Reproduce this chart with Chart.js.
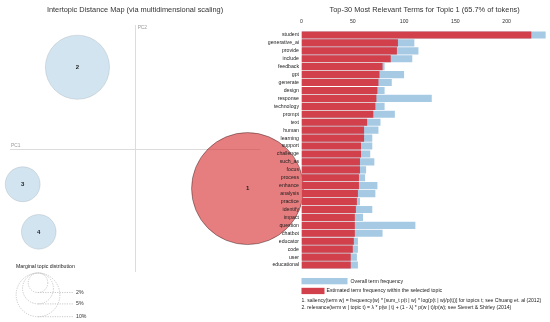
<!DOCTYPE html>
<html>
<head>
<meta charset="utf-8">
<script src="https://cdn.jsdelivr.net/npm/chart.js@4.4.0/dist/chart.umd.min.js"></script>
<style>
body { margin: 0; background: #fff; }
#wrap { position: relative; width: 550px; height: 322px; overflow: hidden; }
#mapChart { position: absolute; left: 0; top: 0; z-index: 0; }
#barChart { position: absolute; left: 240px; top: 0; z-index: 1; }
</style>
</head>
<body>
<div id="wrap">
  <canvas id="mapChart" width="310" height="322"></canvas>
  <canvas id="barChart" width="310" height="322"></canvas>
</div>
<script>
// topics on the intertopic map
var topicIds = ["1", "2", "3", "4"];
var topicPC1 = [0.891, -0.463, -0.899, -0.771];
var topicPC2 = [-0.316, 0.660, -0.281, -0.664];
var topicShare = [65.7, 21.6, 6.4, 6.3];   // % of tokens
var selectedTopic = 0;
var legendShares = [2, 5, 10];

// top-30 terms for topic 1
var terms = ["student", "generative_ai", "provide", "include", "feedback", "gpt", "generate", "design",
  "response", "technology", "prompt", "text", "human", "learning", "support", "challenge", "such_as",
  "focus", "process", "enhance", "analysis", "practice", "identify", "impact", "question", "chatbot",
  "educator", "code", "user", "educational"];
var topicFreq = [224, 94, 93, 87, 79, 76, 75, 74, 73, 72, 70, 64, 61, 61, 58, 58, 57, 57, 56, 56,
  55, 54, 53, 52, 52, 52, 51, 50, 48, 48];
var totalFreq = [238, 110, 114, 108, 81, 100, 88, 81, 127, 81, 91, 77, 75, 69, 69, 67, 71, 63, 62, 74,
  72, 57, 69, 60, 111, 79, 55, 55, 54, 55];
var freqTicks = [0, 50, 100, 150, 200];

var fontFamily = "'Liberation Sans', Arial, sans-serif";

function radiusFor(pct) {
    return 6.91 * Math.sqrt(pct);
}

var mapPoints = topicIds.map(function (id, i) {
    return { x: topicPC1[i], y: topicPC2[i], r: radiusFor(topicShare[i]) };
});

var mapExtras = {
    id: "mapExtras",
    afterDatasetsDraw: function (chart) {
        var ctx = chart.ctx;
        var meta = chart.getDatasetMeta(0);
        var xs = chart.scales.x, ys = chart.scales.y, area = chart.chartArea;
        ctx.save();
        ctx.font = "bold 6px " + fontFamily;
        ctx.fillStyle = "#222";
        ctx.textAlign = "center";
        ctx.textBaseline = "middle";
        meta.data.forEach(function (pt, i) {
            ctx.fillText(topicIds[i], pt.x, pt.y);
        });

        // axis names
        ctx.font = "4.8px " + fontFamily;
        ctx.fillStyle = "#999";
        ctx.textAlign = "left";
        ctx.textBaseline = "bottom";
        ctx.fillText("PC1", area.left + 1, ys.getPixelForValue(0) - 1.5);
        ctx.textBaseline = "top";
        ctx.fillText("PC2", xs.getPixelForValue(0) + 2, area.top + 0.5);

        // marginal topic distribution legend
        ctx.font = "5.2px " + fontFamily;
        ctx.fillStyle = "#222";
        ctx.textBaseline = "middle";
        ctx.fillText("Marginal topic distribution", 16, 267);
        var cx = 38, top = 273;
        ctx.setLineDash([1.2, 1.2]);
        ctx.strokeStyle = "#bbb";
        ctx.lineWidth = 0.8;
        legendShares.forEach(function (p) {
            var r = radiusFor(p);
            ctx.beginPath();
            ctx.arc(cx, top + r, r, 0, Math.PI * 2);
            ctx.stroke();
            ctx.beginPath();
            ctx.moveTo(cx, top + 2 * r);
            ctx.lineTo(73, top + 2 * r);
            ctx.stroke();
        });
        ctx.setLineDash([]);
        ctx.font = "5.2px " + fontFamily;
        ctx.fillStyle = "#333";
        legendShares.forEach(function (p) {
            var r = radiusFor(p);
            ctx.fillText(p + "%", 76, top + 2 * r);
        });
        ctx.restore();
    }
};

function zeroLine(c) {
    return c.tick && c.tick.value === 0 ? "#dcdcdc" : "rgba(0,0,0,0)";
}

new Chart("mapChart", {
    type: "bubble",
    data: {
        datasets: [{
            data: mapPoints,
            clip: false,
            backgroundColor: topicIds.map(function (id, i) {
                return i === selectedTopic ? "rgba(214,39,40,0.6)" : "rgba(31,119,180,0.2)";
            }),
            borderColor: topicIds.map(function (id, i) {
                return i === selectedTopic ? "rgba(0,0,0,0.45)" : "rgba(0,0,0,0.12)";
            }),
            borderWidth: 0.8,
        }],
    },
    options: {
        responsive: false,
        animation: false,
        events: [],
        layout: { autoPadding: false, padding: { left: 10, right: 50, top: 0, bottom: 50 } },
        plugins: {
            legend: { display: false },
            tooltip: { enabled: false },
            title: {
                display: true,
                fullSize: false,
                text: "Intertopic Distance Map (via multidimensional scaling)",
                color: "#333",
                font: { size: 7.4, family: fontFamily, weight: "normal" },
                padding: { top: 5.5, bottom: 10.6 },
            },
        },
        scales: {
            x: {
                min: -1, max: 0.99,
                ticks: { display: false, stepSize: 0.5, includeBounds: false },
                grid: { color: zeroLine, drawTicks: false, lineWidth: 1 },
                border: { display: false },
                afterFit: function (s) { s.height = 0; },
            },
            y: {
                min: -0.987, max: 1,
                ticks: { display: false, stepSize: 0.5, includeBounds: false },
                grid: { color: zeroLine, drawTicks: false, lineWidth: 1 },
                border: { display: false },
                afterFit: function (s) { s.width = 0; },
            },
        },
    },
    plugins: [mapExtras],
});

var barExtras = {
    id: "barExtras",
    afterDraw: function (chart) {
        var ctx = chart.ctx;
        var x0 = chart.chartArea.left;
        var ds = chart.data.datasets;
        ctx.save();
        ctx.fillStyle = ds[1].backgroundColor;
        ctx.fillRect(x0, 278, 46, 6.3);
        ctx.fillStyle = ds[0].backgroundColor;
        ctx.fillRect(x0, 287.8, 23, 6.3);
        ctx.font = "5.2px " + fontFamily;
        ctx.fillStyle = "#222";
        ctx.textAlign = "left";
        ctx.textBaseline = "middle";
        ctx.fillText(ds[1].label, x0 + 49, 281.2);
        ctx.fillText(ds[0].label, x0 + 25, 291);
        ctx.font = "5.1px " + fontFamily;
        ctx.fillText("1. saliency(term w) = frequency(w) * [sum_t p(t | w) * log(p(t | w)/p(t))] for topics t; see Chuang et. al (2012)", x0, 300.8);
        ctx.fillText("2. relevance(term w | topic t) = \u03bb * p(w | t) + (1 - \u03bb) * p(w | t)/p(w); see Sievert & Shirley (2014)", x0, 307.4);
        ctx.restore();
    }
};

new Chart("barChart", {
    type: "bar",
    data: {
        labels: terms,
        datasets: [
            {
                label: "Estimated term frequency within the selected topic",
                data: topicFreq,
                backgroundColor: "#d2414b",
                grouped: false,
                order: 0,
                barPercentage: 0.9,
                categoryPercentage: 1,
            },
            {
                label: "Overall term frequency",
                data: totalFreq,
                backgroundColor: "#a6cae3",
                grouped: false,
                order: 1,
                barPercentage: 0.9,
                categoryPercentage: 1,
            },
        ],
    },
    options: {
        indexAxis: "y",
        responsive: false,
        animation: false,
        events: [],
        layout: { padding: { left: 0, right: 2.3, top: 0, bottom: 53 } },
        plugins: {
            legend: { display: false },
            tooltip: { enabled: false },
            title: {
                display: true,
                fullSize: false,
                text: "Top-30 Most Relevant Terms for Topic " + topicIds[selectedTopic] +
                    " (" + topicShare[selectedTopic] + "% of tokens)",
                color: "#333",
                font: { size: 7.4, family: fontFamily, weight: "normal" },
                padding: { top: 5.5, bottom: 2 },
            },
        },
        scales: {
            x: {
                position: "top",
                min: 0, max: 240,
                afterBuildTicks: function (s) {
                    s.ticks = freqTicks.map(function (v) { return { value: v }; });
                },
                ticks: { font: { size: 5.2, family: fontFamily }, color: "#333", padding: 6 },
                grid: { display: false, drawTicks: false },
                border: { display: false },
                afterFit: function (s) { s.height = 14.6; },
            },
            y: {
                ticks: { font: { size: 5.2, family: fontFamily }, color: "#222", padding: 2.5, autoSkip: false },
                grid: { display: false, drawTicks: false },
                border: { display: false },
                afterFit: function (s) { s.width = 61.5; },
            },
        },
    },
    plugins: [barExtras],
});
</script>
</body>
</html>
